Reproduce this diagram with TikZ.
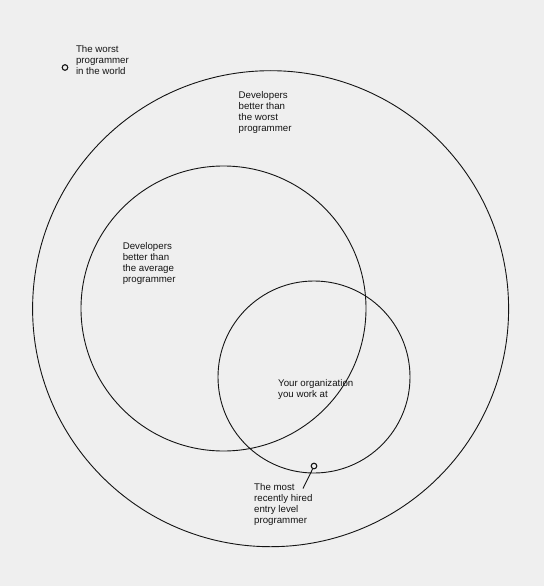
\documentclass[tikz,border=0pt]{standalone}
\usepackage{fontspec}
\setmainfont{Liberation Sans}
\definecolor{bgc}{RGB}{239,239,239}
\definecolor{ink}{RGB}{20,20,20}
\tikzset{
  ring/.style={circle, draw=ink, line width=0.9pt, inner sep=0pt},
  dotmark/.style={circle, draw=ink, line width=1.1pt, inner sep=0pt, minimum size=5.6pt},
  label/.style={anchor=north west, inner sep=0pt, align=left, text=ink, font=\fontsize{9.7}{11}\selectfont},
  lead/.style={draw=ink, line width=0.9pt}
}
\begin{document}
\begin{tikzpicture}[x=1pt,y=-1pt]
\fill[bgc] (0,0) rectangle (544,586);
\useasboundingbox (0,0) rectangle (544,586);
\node[ring, minimum size=476pt] (outer) at (270.6,308.7) {};
\node[ring, minimum size=285pt] (middle) at (223.5,308.5) {};
\node[ring, minimum size=192pt] (org) at (314,377) {};
\node[dotmark] (worst) at (65,67.5) {};
\node[dotmark] (hired) at (314,466) {};
\node[label] (tworst) at (75.8,45.6) {The worst\\programmer\\in the world};
\node[label] (tbetter) at (238.5,91.6) {Developers\\better than\\the worst\\programmer};
\node[label] (tavg) at (122.6,241.8) {Developers\\better than\\the average\\programmer};
\node[label] (torg) at (278,378.8) {Your organization\\you work at};
\node[label] (thired) at (254,483.5) {The most\\recently hired\\entry level\\programmer};
\coordinate (leadend) at (303,488.5);
\draw[lead] (hired.-115) -- (leadend);
\end{tikzpicture}
\end{document}
